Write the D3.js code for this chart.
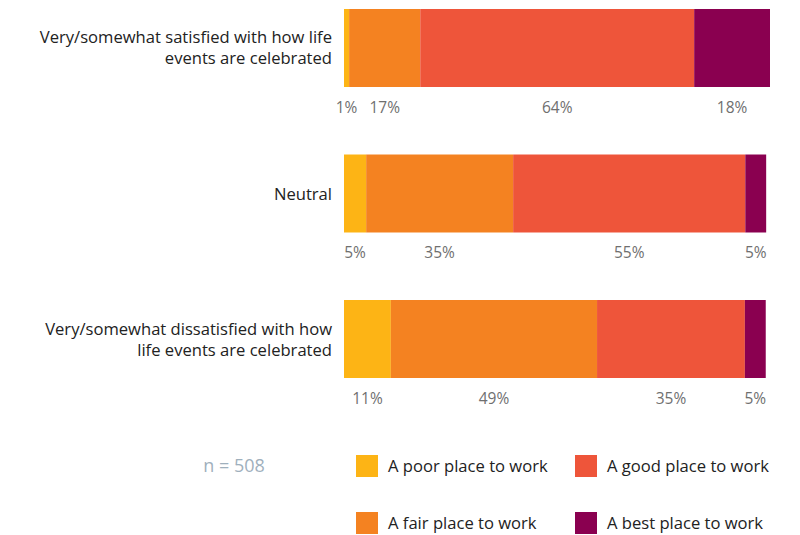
<!DOCTYPE html>
<html><head><meta charset="utf-8">
<script src="https://cdn.jsdelivr.net/npm/d3@7"></script>
<style>body{margin:0;background:#fff}svg{display:block}</style>
</head><body>
<svg id="c" width="800" height="535"></svg>
<script>
const categories = [
  "Very/somewhat satisfied with how life events are celebrated",
  "Neutral",
  "Very/somewhat dissatisfied with how life events are celebrated"
];
const categoryLines = [
  ["Very/somewhat satisfied with how life", "events are celebrated"],
  ["Neutral"],
  ["Very/somewhat dissatisfied with how", "life events are celebrated"]
];
const seriesNames = ["A poor place to work", "A fair place to work", "A good place to work", "A best place to work"];
const poor = [1.2, 5.2, 11.0];
const fair = [16.7, 34.5, 48.4];
const good = [64.3, 54.5, 34.7];
const best = [17.8, 4.9, 4.9];
const valueLabels = [
  ["1%", "17%", "64%", "18%"],
  ["5%", "35%", "55%", "5%"],
  ["11%", "49%", "35%", "5%"]
];
const sampleNote = "n = 508";
const colors = ["#fdb415", "#f48221", "#ee553a", "#8a0050"];

const svg = d3.select("#c");
const x = d3.scaleLinear().domain([0, 100]).range([344, 770]);
const y = d3.scaleBand().domain(categories).range([9, 378]).paddingInner(0.464).paddingOuter(0);
const color = d3.scaleOrdinal().domain(seriesNames).range(colors);

const series = [poor, fair, good, best];
const rows = categories.map((c, i) => {
  let acc = 0;
  return series.map((s, k) => {
    const seg = {cat: c, i, k, x0: acc, x1: acc + s[i], name: seriesNames[k], label: valueLabels[i][k]};
    acc += s[i];
    return seg;
  });
});
const segs = rows.flat();

svg.append("g").selectAll("rect").data(segs).join("rect")
  .attr("x", d => x(d.x0))
  .attr("width", d => x(d.x1) - x(d.x0))
  .attr("y", d => y(d.cat))
  .attr("height", y.bandwidth())
  .attr("fill", d => color(d.name));

svg.append("g").selectAll("text").data(segs).join("text")
  .attr("x", d => (x(d.x0) + x(d.x1)) / 2)
  .attr("y", d => y(d.cat) + y.bandwidth() + 26)
  .attr("text-anchor", "middle")
  .attr("font-family", "Open Sans, sans-serif")
  .attr("font-size", 15.5)
  .attr("fill", "#6f6f6f")
  .text(d => d.label);

const catG = svg.append("g");
categories.forEach((c, i) => {
  const lines = categoryLines[i];
  const cy = y(c) + y.bandwidth() / 2;
  const t = catG.append("text")
    .attr("text-anchor", "end")
    .attr("font-family", "Open Sans, sans-serif")
    .attr("font-size", 16.6)
    .attr("fill", "#222");
  lines.forEach((ln, j) => {
    t.append("tspan")
      .attr("x", 332)
      .attr("y", cy + 6 + (j - (lines.length - 1) / 2) * 21)
      .text(ln);
  });
});

svg.append("text")
  .attr("x", 234).attr("y", 472)
  .attr("text-anchor", "middle")
  .attr("font-family", "Open Sans, sans-serif")
  .attr("font-size", 18)
  .attr("fill", "#9fb0bd")
  .text(sampleNote);

const legendOrder = [0, 2, 1, 3];
const lg = svg.append("g").selectAll("g").data(legendOrder).join("g")
  .attr("transform", (k, j) => `translate(${j % 2 === 0 ? 356 : 575},${j < 2 ? 455 : 512})`);
lg.append("rect").attr("width", 22).attr("height", 22).attr("fill", k => colors[k]);
lg.append("text")
  .attr("x", 32).attr("y", 17)
  .attr("font-family", "Open Sans, sans-serif")
  .attr("font-size", 16.6)
  .attr("fill", "#222")
  .text(k => seriesNames[k]);
</script>
</body></html>
